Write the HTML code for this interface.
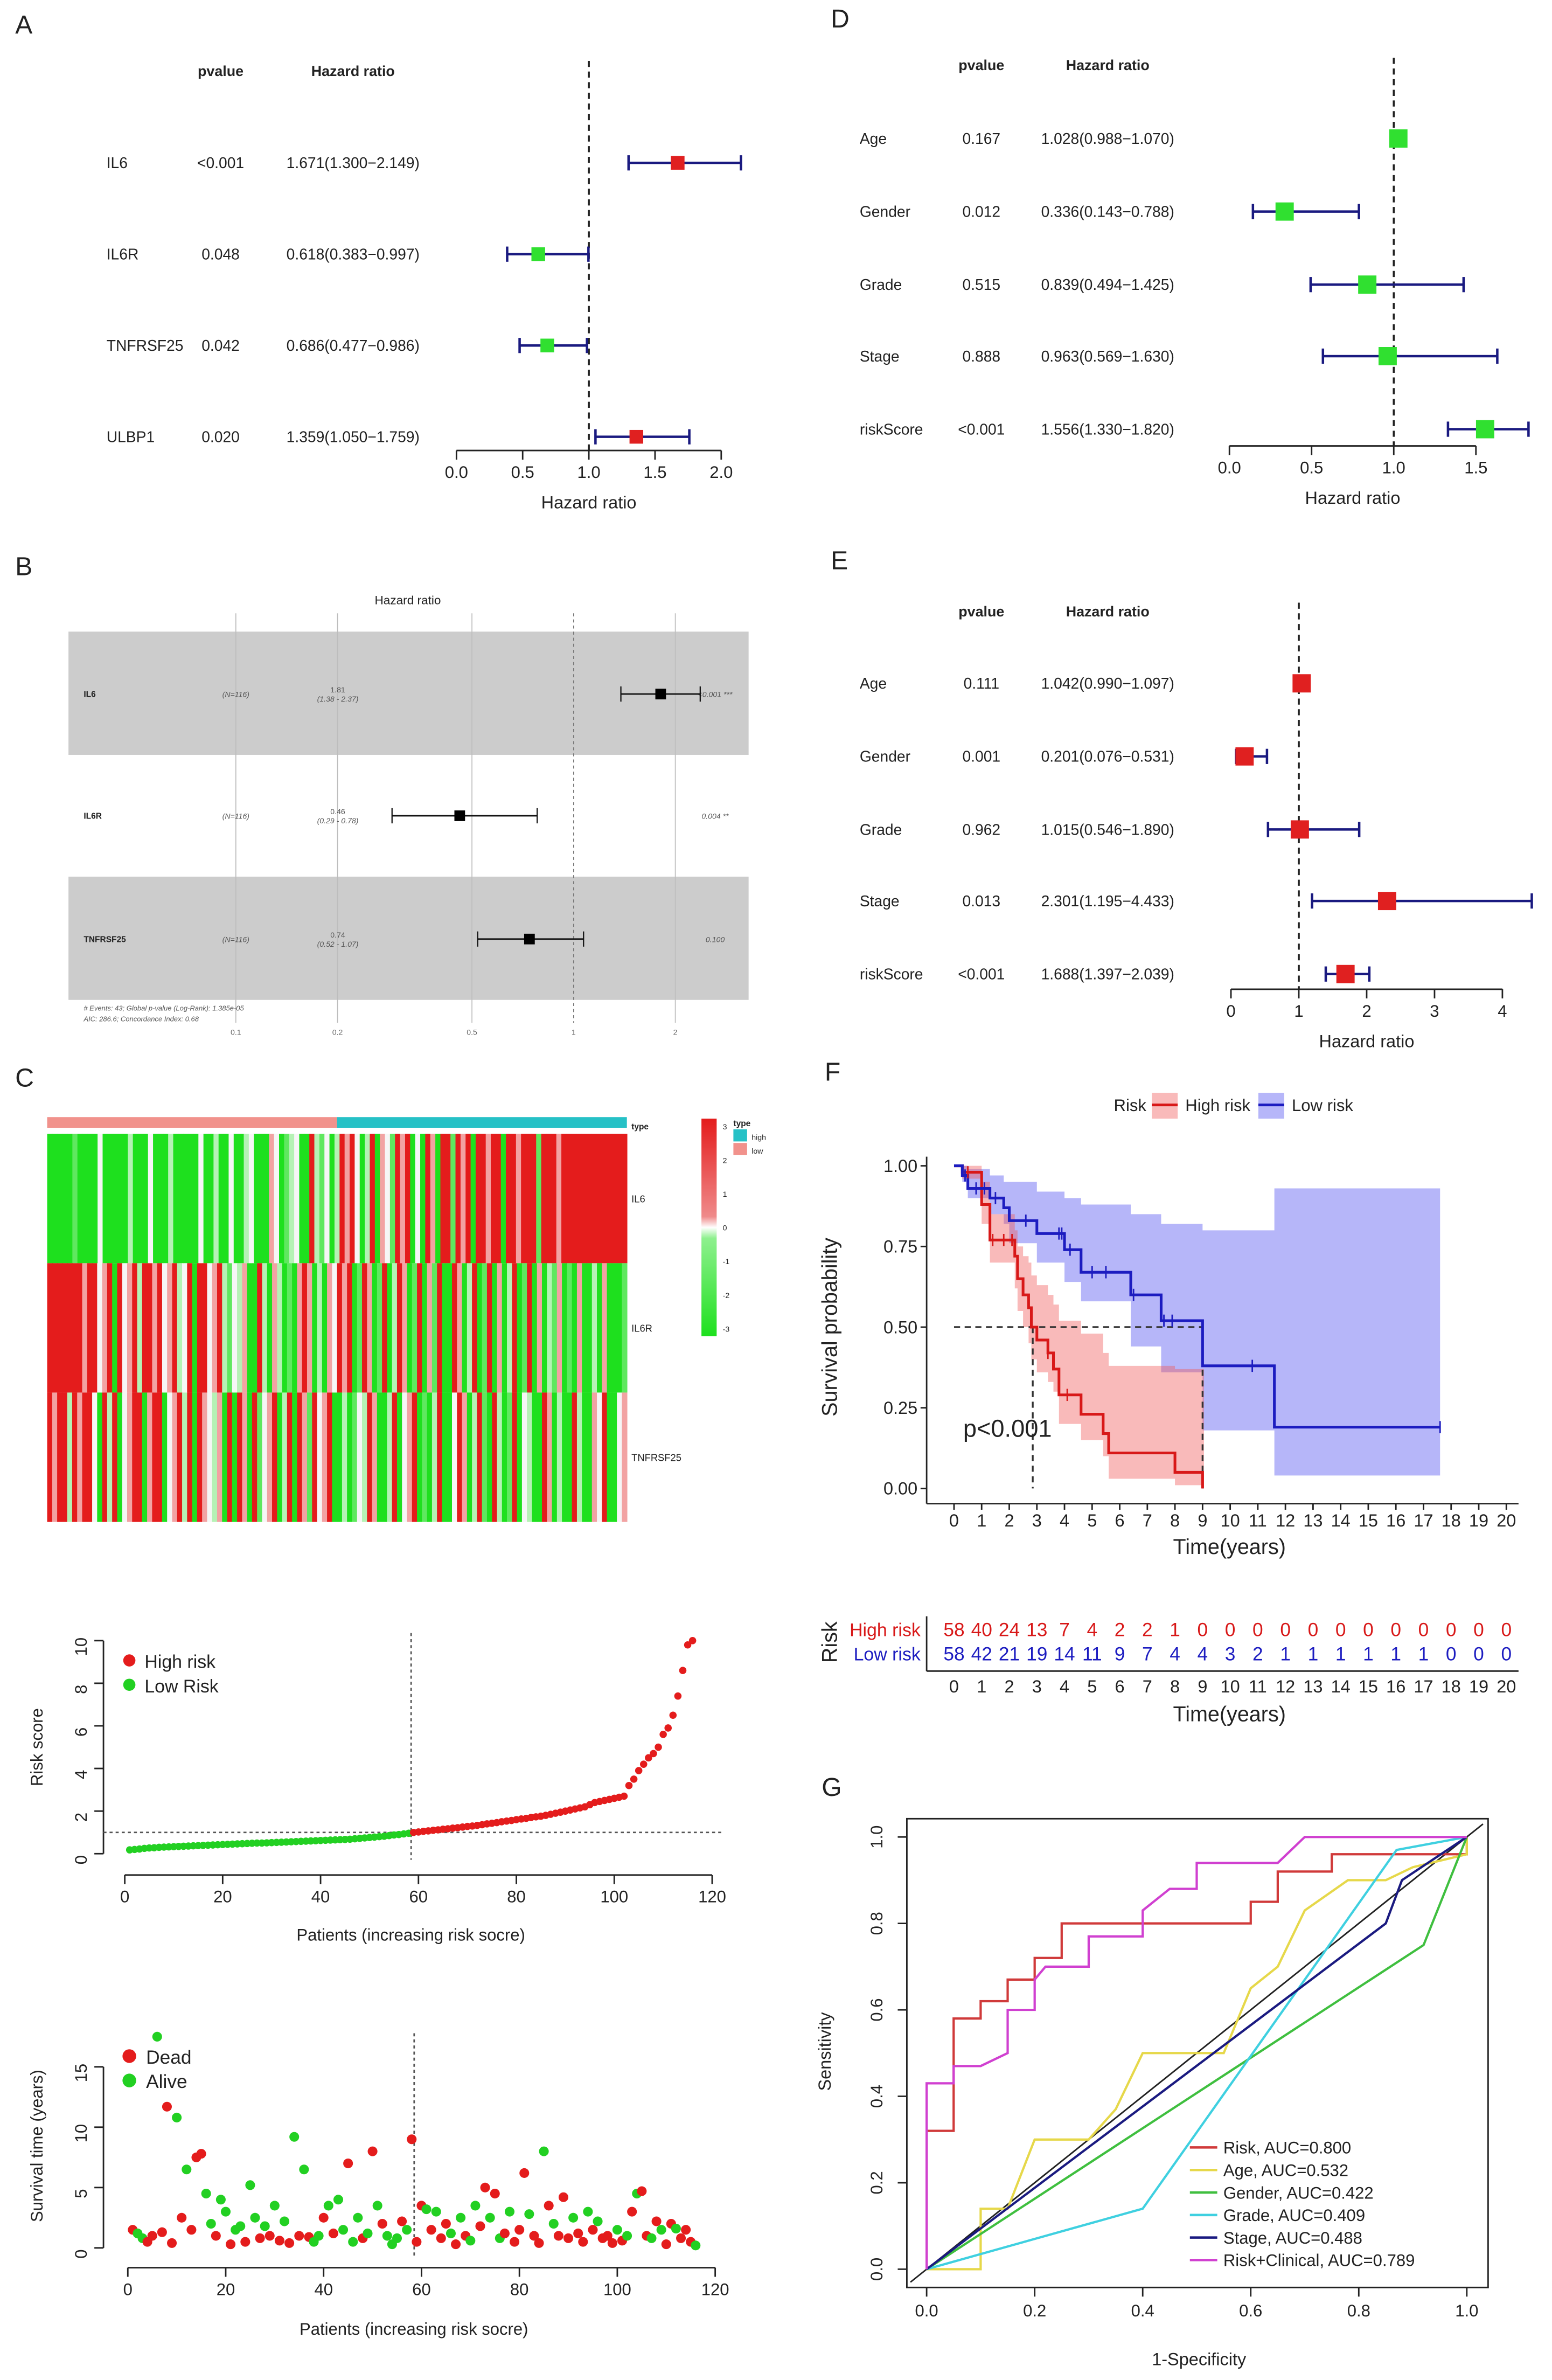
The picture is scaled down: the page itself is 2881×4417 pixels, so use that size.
<!DOCTYPE html>
<html><head><meta charset="utf-8"><style>
html,body{margin:0;padding:0;background:#fff}
svg{display:block;font-family:"Liberation Sans",Arial,sans-serif}
</style></head><body>
<svg id="fig" xmlns="http://www.w3.org/2000/svg" width="2881" height="4417" viewBox="0 0 1020 1563.8">
<rect x="0" y="0" width="1020" height="1563.8" fill="#fff"/>
</svg>
<script>
// ---------- DATA ----------
const aGenes=["IL6","IL6R","TNFRSF25","ULBP1"];
const aPvals=["<0.001","0.048","0.042","0.020"];
const aHRtxt=["1.671(1.300\u22122.149)","0.618(0.383\u22120.997)","0.686(0.477\u22120.986)","1.359(1.050\u22121.759)"];
const aHR=[1.671,0.618,0.686,1.359];
const aLo=[1.300,0.383,0.477,1.050];
const aHi=[2.149,0.997,0.986,1.759];
const aTicks=[0,0.5,1,1.5,2];

const dVars=["Age","Gender","Grade","Stage","riskScore"];
const dPvals=["0.167","0.012","0.515","0.888","<0.001"];
const dHRtxt=["1.028(0.988\u22121.070)","0.336(0.143\u22120.788)","0.839(0.494\u22121.425)","0.963(0.569\u22121.630)","1.556(1.330\u22121.820)"];
const dHR=[1.028,0.336,0.839,0.963,1.556];
const dLo=[0.988,0.143,0.494,0.569,1.330];
const dHi=[1.070,0.788,1.425,1.630,1.820];
const dTicks=[0,0.5,1,1.5];

const eVars=["Age","Gender","Grade","Stage","riskScore"];
const ePvals=["0.111","0.001","0.962","0.013","<0.001"];
const eHRtxt=["1.042(0.990\u22121.097)","0.201(0.076\u22120.531)","1.015(0.546\u22121.890)","2.301(1.195\u22124.433)","1.688(1.397\u22122.039)"];
const eHR=[1.042,0.201,1.015,2.301,1.688];
const eLo=[0.990,0.076,0.546,1.195,1.397];
const eHi=[1.097,0.531,1.890,4.433,2.039];
const eTicks=[0,1,2,3,4];

const bGenes=["IL6","IL6R","TNFRSF25"];
const bHR=[1.81,0.46,0.74];
const bLo=[1.38,0.29,0.52];
const bHi=[2.37,0.78,1.07];
const bHRtxt=["1.81","0.46","0.74"];
const bCItxt=["(1.38 - 2.37)","(0.29 - 0.78)","(0.52 - 1.07)"];
const bPtxt=["<0.001 ***","0.004 **","0.100"];
const bTicks=[0.1,0.2,0.5,1,2];

// heatmap codes: G=-3 g=-1.5 l=-0.7 w=0 p=1 r=2 R=3
const hmGenes=["IL6","IL6R","TNFRSF25"];
const hmRows=[
"GGGGGgGGGGwGGGGGlGGGwGGGlGGGGGwGGlGGwGGlwGGGpwGglwGGRlgwGl"+"RpRwGlRGpwgRpRGwGRpGRRgRpRGRRpRRGRRpRRRgRRRpRRRRRRRRRRRRR",
"RRRRRRRpRRwpRGRwpRlRRpRwpRlwRGRRwpRlgwlpGGRlGplGgGpRpGlGpw"+"RpRGgRpGgRGlRpGgRGpgRGGRpGlRGgRGpGlRGgRGpGlgpGgGpGGlGpGGGg",
"RpRRlRpRRwGRlRGwpRRGpRRGwpRlRGRpwlpGRGRpGRgwpRGlRGRpgRwpRG"+"GlGgwlRpGGlRGwpRGgGlRGGwRpGlRgGRlGgRGwlGGRpGlGGRlGGpwRGGwp"
];
const hmTicks=[3,2,1,0,-1,-2,-3];

const riskScore=[0.18,0.2,0.22,0.25,0.27,0.28,0.3,0.31,0.32,0.33,0.34,0.35,0.36,0.37,0.38,0.39,0.4,0.41,0.42,0.43,0.44,0.45,0.46,0.47,0.48,0.49,0.5,0.5,0.51,0.52,0.53,0.54,0.55,0.56,0.57,0.58,0.59,0.6,0.61,0.62,0.63,0.64,0.65,0.66,0.67,0.68,0.7,0.72,0.74,0.76,0.78,0.8,0.82,0.85,0.88,0.9,0.93,0.96,
1.0,1.02,1.05,1.07,1.1,1.12,1.15,1.17,1.2,1.22,1.25,1.28,1.3,1.33,1.36,1.4,1.43,1.46,1.5,1.53,1.56,1.6,1.63,1.66,1.7,1.73,1.76,1.8,1.85,1.9,1.95,2.0,2.05,2.1,2.15,2.2,2.3,2.4,2.45,2.5,2.55,2.6,2.65,2.7,3.2,3.5,3.9,4.2,4.5,4.7,5.0,5.6,5.9,6.5,7.4,8.6,9.8,10.0];
const riskXTicks=[0,20,40,60,80,100,120];
const riskYTicks=[0,2,4,6,8,10];

const survTime=[1.5,1.2,0.8,0.5,1.0,17.5,1.3,11.7,0.4,10.8,2.5,6.5,1.5,7.5,7.8,4.5,2.0,1.0,4.0,3.0,0.3,1.5,1.8,0.5,5.2,2.5,0.8,1.8,1.0,3.5,0.6,2.2,0.4,9.2,1.0,6.5,0.9,0.5,1.0,2.5,3.5,1.2,4.0,1.5,7.0,0.5,2.5,0.8,1.2,8.0,3.5,2.0,1.0,0.3,0.8,2.2,1.5,9.0,
0.5,3.5,3.2,1.5,3.0,0.8,2.0,1.2,0.3,2.5,1.0,0.6,3.5,1.8,5.0,2.5,4.5,0.8,1.2,3.0,0.5,1.5,6.2,2.8,1.0,0.4,8.0,3.5,2.0,1.0,4.2,0.8,2.5,1.2,0.5,3.0,1.5,2.2,0.8,1.0,0.4,1.5,0.6,1.0,3.0,4.5,4.7,1.0,0.8,2.2,1.5,0.3,2.0,1.6,0.8,1.5,0.5,0.2];
const survDead="1001101110101110010010010010101010101001010010010101000101"+"1101011010100110101011101101011101101011101010110101101110";
const survYTicks=[0,5,10,15];

const kmHighT=[0,0.3,1.0,1.3,2.2,2.3,2.5,2.7,2.8,3.0,3.4,3.6,3.8,4.6,5.4,5.6,8.0,9.0];
const kmHighS=[1,0.98,0.88,0.77,0.72,0.65,0.60,0.56,0.50,0.46,0.42,0.37,0.29,0.23,0.17,0.11,0.05,0.0];
const kmHighU=[1,1,0.95,0.85,0.80,0.75,0.72,0.70,0.66,0.63,0.60,0.57,0.52,0.48,0.42,0.38,0.37,0.37];
const kmHighL=[1,0.96,0.82,0.70,0.62,0.55,0.50,0.45,0.40,0.36,0.33,0.30,0.20,0.15,0.10,0.03,0.01,0.0];
const kmLowT=[0,0.3,0.5,1.3,1.8,2.0,3.0,4.0,4.6,6.4,7.5,9.0,11.6,17.6];
const kmLowS=[1,0.97,0.93,0.90,0.87,0.83,0.79,0.74,0.67,0.60,0.52,0.38,0.19,0.19];
const kmLowU=[1,1,0.99,0.97,0.95,0.95,0.92,0.90,0.88,0.85,0.82,0.80,0.93,0.93];
const kmLowL=[1,0.95,0.90,0.85,0.82,0.76,0.70,0.64,0.58,0.44,0.36,0.18,0.04,0.04];
const kmLowCens=[0.4,0.8,1.1,1.5,2.6,3.8,3.9,4.2,5.0,5.5,6.5,7.6,7.9,10.8,17.6];
const kmHighCens=[0.5,1.4,1.8,2.1,3.4,4.1];
const kmXTicks=[0,1,2,3,4,5,6,7,8,9,10,11,12,13,14,15,16,17,18,19,20];
const kmYTicks=[0,0.25,0.5,0.75,1.0];
const nHigh=[58,40,24,13,7,4,2,2,1,0,0,0,0,0,0,0,0,0,0,0,0];
const nLow=[58,42,21,19,14,11,9,7,4,4,3,2,1,1,1,1,1,1,0,0,0];

const rocNames=["Risk, AUC=0.800","Age, AUC=0.532","Gender, AUC=0.422","Grade, AUC=0.409","Stage, AUC=0.488","Risk+Clinical, AUC=0.789"];
const rocColors=["#d03a3a","#e6d84a","#3fbf3f","#3fd0e0","#1a1a80","#d040d0"];
const rocRiskX=[0,0,0.05,0.05,0.1,0.1,0.15,0.15,0.2,0.2,0.25,0.25,0.6,0.6,0.65,0.65,0.75,0.75,1,1];
const rocRiskY=[0,0.32,0.32,0.58,0.58,0.62,0.62,0.67,0.67,0.72,0.72,0.8,0.8,0.85,0.85,0.92,0.92,0.96,0.96,1];
const rocAgeX=[0,0.1,0.1,0.15,0.2,0.3,0.35,0.4,0.55,0.6,0.65,0.7,0.78,0.85,0.9,1,1];
const rocAgeY=[0,0,0.14,0.14,0.3,0.3,0.37,0.5,0.5,0.65,0.7,0.83,0.9,0.9,0.93,0.96,1];
const rocGenderX=[0,0.92,1];
const rocGenderY=[0,0.75,1];
const rocGradeX=[0,0.4,0.87,1];
const rocGradeY=[0,0.14,0.97,1];
const rocStageX=[0,0.85,0.88,1];
const rocStageY=[0,0.8,0.9,1];
const rocRCX=[0,0,0.05,0.05,0.1,0.15,0.15,0.2,0.2,0.22,0.3,0.3,0.4,0.4,0.45,0.5,0.5,0.65,0.7,1];
const rocRCY=[0,0.43,0.43,0.47,0.47,0.5,0.6,0.6,0.67,0.7,0.7,0.77,0.77,0.83,0.88,0.88,0.94,0.94,1,1];
const rocTicks=[0,0.2,0.4,0.6,0.8,1.0];

// ---------- HELPERS ----------
const svg=document.getElementById('fig');
const NS="http://www.w3.org/2000/svg";
function mk(tag,attrs,name,parent){
  const el=document.createElementNS(NS,tag);
  for(const k in attrs) el.setAttribute(k,attrs[k]);
  
  
  (parent||svg).appendChild(el);
  return el;
}
function txt(x,y,s,size,name,opt){
  opt=opt||{};
  const t=mk('text',Object.assign({x:x,y:y,'font-size':size,fill:opt.fill||'#222','text-anchor':opt.anchor||'start'},opt.extra||{}),name);
  if(opt.bold) t.setAttribute('font-weight','bold');
  if(opt.italic) t.setAttribute('font-style','italic');
  if(opt.rot!==undefined) t.setAttribute('transform','rotate('+opt.rot+' '+x+' '+y+')');
  t.textContent=s;
  return t;
}
function line(x1,y1,x2,y2,stroke,w,name,dash){
  const a={x1:x1,y1:y1,x2:x2,y2:y2,stroke:stroke,'stroke-width':w};
  if(dash) a['stroke-dasharray']=dash;
  return mk('line',a,name);
}

// ---------- PANEL LABELS ----------
[["A",10,22],["B",10,378],["C",10,714],["D",546,18],["E",546,374],["F",542,710],["G",540,1180]].forEach(p=>{
  txt(p[1],p[2],p[0],17,'panel-label-'+p[0].toLowerCase());
});

// ---------- FOREST (A,D,E) ----------
function forest(cfg){
  const sx=v=>cfg.x0+(v-cfg.v0)*cfg.k;
  txt(cfg.pvx,cfg.hy,'pvalue',9.5,cfg.id+'-pvalue-header',{anchor:'middle',bold:true});
  txt(cfg.hrx,cfg.hy,'Hazard ratio',9.5,cfg.id+'-hr-header',{anchor:'middle',bold:true});
  line(sx(1),cfg.top,sx(1),cfg.axy,'#222',1.3,cfg.id+'-reference-line','4,3');
  cfg.names.forEach((n,i)=>{
    const y=cfg.rows[i];
    txt(cfg.nx,y+3.5,n,10,cfg.id+'-row-label');
    txt(cfg.pvx,y+3.5,cfg.p[i],10,cfg.id+'-pvalue',{anchor:'middle'});
    txt(cfg.hrx,y+3.5,cfg.t[i],10,cfg.id+'-hr-text',{anchor:'middle'});
    line(sx(cfg.lo[i]),y,sx(cfg.hi[i]),y,'#1a1a80',1.6,cfg.id+'-ci-line');
    line(sx(cfg.lo[i]),y-5,sx(cfg.lo[i]),y+5,'#1a1a80',1.6,cfg.id+'-ci-cap');
    line(sx(cfg.hi[i]),y-5,sx(cfg.hi[i]),y+5,'#1a1a80',1.6,cfg.id+'-ci-cap');
    const col=cfg.colors[i];
    const s=cfg.sq;
    mk('rect',{x:sx(cfg.hr[i])-s/2,y:y-s/2,width:s,height:s,fill:col},cfg.id+'-hr-point');
  });
  line(sx(cfg.ticks[0]),cfg.axy,sx(cfg.ticks[cfg.ticks.length-1]),cfg.axy,'#222',1,cfg.id+'-x-axis');
  cfg.ticks.forEach(t=>{
    line(sx(t),cfg.axy,sx(t),cfg.axy+6,'#222',1,cfg.id+'-x-tick');
    txt(sx(t),cfg.axy+18,cfg.tf(t),11,cfg.id+'-x-tick-label',{anchor:'middle'});
  });
  txt((sx(cfg.ticks[0])+sx(cfg.ticks[cfg.ticks.length-1]))/2,cfg.axy+38,'Hazard ratio',11.5,cfg.id+'-x-axis-title',{anchor:'middle'});
}
forest({id:'forest-a',names:aGenes,p:aPvals,t:aHRtxt,hr:aHR,lo:aLo,hi:aHi,ticks:aTicks,tf:t=>t.toFixed(1),
  x0:300,v0:0,k:87,rows:[107,167,227,287],nx:70,pvx:145,hrx:232,hy:50,top:40,axy:296,sq:9,
  colors:aHR.map(v=>v>1?'#e02020':'#30e030')});
forest({id:'forest-d',names:dVars,p:dPvals,t:dHRtxt,hr:dHR,lo:dLo,hi:dHi,ticks:dTicks,tf:t=>t.toFixed(1),
  x0:808,v0:0,k:108,rows:[91,139,187,234,282],nx:565,pvx:645,hrx:728,hy:46,top:38,axy:293,sq:12,
  colors:dHR.map(()=>'#30e030')});
forest({id:'forest-e',names:eVars,p:ePvals,t:eHRtxt,hr:eHR,lo:eLo,hi:eHi,ticks:eTicks,tf:t=>String(t),
  x0:809,v0:0,k:44.6,rows:[449,497,545,592,640],nx:565,pvx:645,hrx:728,hy:405,top:396,axy:650,sq:12,
  colors:eHR.map(()=>'#e02020')});

// ---------- PANEL B ----------
(function(){
  const sx=v=>377+222*Math.log10(v);
  txt(268,397,'Hazard ratio',8,'b-title',{anchor:'middle'});
  const rowsY=[456,536,617];
  mk('rect',{x:45,y:415,width:447,height:81,fill:'#cccccc'},'b-row-band');
  mk('rect',{x:45,y:576,width:447,height:81,fill:'#cccccc'},'b-row-band');
  bTicks.forEach(t=>{
    line(sx(t),403,sx(t),672,t===1?'#777':'#bdbdbd',0.6,'b-gridline',t===1?'2,2':null);
    txt(sx(t),680,String(t),5,'b-x-tick-label',{anchor:'middle',fill:'#666'});
  });
  bGenes.forEach((g,i)=>{
    const y=rowsY[i];
    txt(55,y+2,g,5.5,'b-gene-label',{bold:true});
    txt(155,y+2,'(N=116)',5,'b-n-label',{anchor:'middle',italic:true,fill:'#555'});
    txt(222,y-1,bHRtxt[i],5,'b-hr-text',{anchor:'middle',fill:'#555'});
    txt(222,y+5,bCItxt[i],5,'b-ci-text',{anchor:'middle',italic:true,fill:'#555'});
    txt(470,y+2,bPtxt[i],5,'b-pvalue-text',{anchor:'middle',italic:true,fill:'#555'});
    line(sx(bLo[i]),y,sx(bHi[i]),y,'#111',1,'b-ci-line');
    line(sx(bLo[i]),y-5,sx(bLo[i]),y+5,'#111',0.8,'b-ci-cap');
    line(sx(bHi[i]),y-5,sx(bHi[i]),y+5,'#111',0.8,'b-ci-cap');
    mk('rect',{x:sx(bHR[i])-3.5,y:y-3.5,width:7,height:7,fill:'#000'},'b-hr-point');
  });
  txt(55,664,'# Events: 43; Global p-value (Log-Rank): 1.385e-05',4.6,'b-footnote',{italic:true,fill:'#555'});
  txt(55,671,'AIC: 286.6; Concordance Index: 0.68',4.6,'b-footnote',{italic:true,fill:'#555'});
})();

// ---------- PANEL C HEATMAP ----------
(function(){
  const colMap={G:'#1ee01e',g:'#5fe85f',l:'#b5f2b5',w:'#f6f6f6',p:'#f2a3a3',r:'#ec5a5a',R:'#e41c1c'};
  const x0=31,x1=412;
  const nLow=58,total=116;
  const cw=(x1-x0)/total;
  mk('rect',{x:x0,y:734,width:cw*nLow,height:7,fill:'#f1928c'},'type-bar-low');
  mk('rect',{x:x0+cw*nLow,y:734,width:cw*(total-nLow),height:7,fill:'#26c1c6'},'type-bar-high');
  txt(415,742,'type',5.5,'type-bar-label',{bold:true});
  const rowY=[745,830,915];
  hmRows.forEach((s,r)=>{
    const w=(x1-x0)/s.length;
    for(let i=0;i<s.length;i++){
      mk('rect',{x:x0+i*w,y:rowY[r],width:w+0.3,height:85,fill:colMap[s[i]]||'#f6f6f6'},'heatmap-cell');
    }
    txt(415,rowY[r]+45,hmGenes[r],6.5,'heatmap-row-label');
  });
  const g=mk('linearGradient',{id:'hmgrad',x1:0,y1:0,x2:0,y2:1},'colorbar-gradient');
  [['0','#e41c1c'],['0.45','#ef8a8a'],['0.5','#ffffff'],['0.55','#8ef08e'],['1','#1ee01e']].forEach(s=>{
    mk('stop',{offset:s[0],'stop-color':s[1]},'gradient-stop',g);
  });
  mk('rect',{x:461,y:735,width:10,height:143,fill:'url(#hmgrad)'},'colorbar');
  hmTicks.forEach(t=>{
    const y=735+5+(3-t)/6*133;
    txt(475,y+2,String(t),5,'colorbar-tick-label');
  });
  txt(482,740,'type',5.5,'legend-type-title',{bold:true});
  mk('rect',{x:482,y:742,width:9,height:8,fill:'#26c1c6'},'legend-high-swatch');
  mk('rect',{x:482,y:751,width:9,height:8,fill:'#f1928c'},'legend-low-swatch');
  txt(494,749,'high',5,'legend-high-label');
  txt(494,758,'low',5,'legend-low-label');
})();

// ---------- RISK SCORE PLOT ----------
(function(){
  const sx=i=>82+i*3.217, sy=v=>1218-v*14;
  line(68,sy(0),68,sy(10),'#222',1,'risk-y-axis');
  line(sx(0),1232,sx(120),1232,'#222',1,'risk-x-axis');
  riskYTicks.forEach(t=>{line(62,sy(t),68,sy(t),'#222',1,'risk-y-tick');txt(57,sy(t)+4,String(t),11,'risk-y-tick-label',{anchor:'middle',rot:-90});});
  riskXTicks.forEach(t=>{line(sx(t),1232,sx(t),1238,'#222',1,'risk-x-tick');txt(sx(t),1250,String(t),11,'risk-x-tick-label',{anchor:'middle'});});
  txt(28,1148,'Risk score',11,'risk-y-axis-title',{anchor:'middle',rot:-90});
  txt(270,1275,'Patients (increasing risk socre)',11,'risk-x-axis-title',{anchor:'middle'});
  line(sx(58.5),1073,sx(58.5),1222,'#555',1,'risk-cutoff-vline','2,2');
  line(68,sy(1),476,sy(1),'#555',1,'risk-cutoff-hline','2,2');
  riskScore.forEach((v,i)=>{
    mk('circle',{cx:sx(i+1),cy:sy(v),r:2.4,fill:v>=1?'#e41c1c':'#22d022'},'risk-point');
  });
  mk('circle',{cx:85,cy:1091,r:4,fill:'#e41c1c'},'legend-high-risk-dot');
  txt(95,1096,'High risk',12,'legend-high-risk-label');
  mk('circle',{cx:85,cy:1107,r:4,fill:'#22d022'},'legend-low-risk-dot');
  txt(95,1112,'Low Risk',12,'legend-low-risk-label');
})();

// ---------- SURVIVAL TIME PLOT ----------
(function(){
  const sx=i=>84+i*3.217, sy=v=>1477-v*7.93;
  line(68,sy(0),68,sy(15),'#222',1,'surv-y-axis');
  line(sx(0),1490,sx(120),1490,'#222',1,'surv-x-axis');
  survYTicks.forEach(t=>{line(62,sy(t),68,sy(t),'#222',1,'surv-y-tick');txt(57,sy(t)+4,String(t),11,'surv-y-tick-label',{anchor:'middle',rot:-90});});
  riskXTicks.forEach(t=>{line(sx(t),1490,sx(t),1496,'#222',1,'surv-x-tick');txt(sx(t),1508,String(t),11,'surv-x-tick-label',{anchor:'middle'});});
  txt(28,1410,'Survival time (years)',11,'surv-y-axis-title',{anchor:'middle',rot:-90});
  txt(272,1534,'Patients (increasing risk socre)',11,'surv-x-axis-title',{anchor:'middle'});
  line(sx(58.5),1336,sx(58.5),1482,'#555',1,'surv-cutoff-vline','2,2');
  survTime.forEach((v,i)=>{
    mk('circle',{cx:sx(i+1),cy:sy(v),r:3.2,fill:survDead[i]==='1'?'#e41c1c':'#22d022'},'surv-point');
  });
  mk('circle',{cx:85,cy:1351,r:4.5,fill:'#e41c1c'},'legend-dead-dot');
  txt(96,1356,'Dead',12.5,'legend-dead-label');
  mk('circle',{cx:85,cy:1367,r:4.5,fill:'#22d022'},'legend-alive-dot');
  txt(96,1372,'Alive',12.5,'legend-alive-label');
})();

// ---------- PANEL F KM ----------
(function(){
  const sx=t=>627+t*18.15, sy=s=>978-s*212;
  function stepPts(T,S){let p=[];for(let i=0;i<T.length;i++){if(i>0)p.push([sx(T[i]),sy(S[i-1])]);p.push([sx(T[i]),sy(S[i])]);}return p;}
  function ribbon(T,U,L,end){
    const TT=T.concat([end]);
    let up=[],lo=[];
    for(let i=0;i<T.length;i++){up.push([sx(TT[i]),sy(U[i])]);up.push([sx(TT[i+1]),sy(U[i])]);lo.push([sx(TT[i]),sy(L[i])]);lo.push([sx(TT[i+1]),sy(L[i])]);}
    return up.concat(lo.reverse()).map(p=>p.join(',')).join(' ');
  }
  mk('polygon',{points:ribbon(kmLowT,kmLowU,kmLowL,17.6),fill:'rgba(80,80,240,0.42)'},'km-low-risk-ci');
  mk('polygon',{points:ribbon(kmHighT,kmHighU,kmHighL,9.05),fill:'rgba(240,90,90,0.42)'},'km-high-risk-ci');
  // median lines
  line(sx(0),sy(0.5),sx(9.0),sy(0.5),'#333',1.2,'km-median-hline','4,3');
  line(sx(2.85),sy(0.5),sx(2.85),sy(0),'#333',1.2,'km-median-vline-high','4,3');
  line(sx(9.0),sy(0.5),sx(9.0),sy(0),'#333',1.2,'km-median-vline-low','4,3');
  const hp=stepPts(kmHighT,kmHighS);
  mk('polyline',{points:hp.map(p=>p.join(',')).join(' '),fill:'none',stroke:'#d81818','stroke-width':1.8},'km-high-risk-curve');
  const lp=stepPts(kmLowT,kmLowS);
  mk('polyline',{points:lp.map(p=>p.join(',')).join(' '),fill:'none',stroke:'#1c1cc0','stroke-width':1.8},'km-low-risk-curve');
  function survAt(T,S,t){let s=S[0];for(let i=0;i<T.length;i++){if(T[i]<=t)s=S[i];}return s;}
  kmLowCens.forEach(t=>{const y=sy(survAt(kmLowT,kmLowS,t));line(sx(t),y-4,sx(t),y+4,'#1c1cc0',1,'km-low-censor');});
  kmHighCens.forEach(t=>{const y=sy(survAt(kmHighT,kmHighS,t));line(sx(t),y-4,sx(t),y+4,'#d81818',1,'km-high-censor');});
  line(609,760,609,sy(0)+10,'#222',1,'km-y-axis');
  line(609,sy(0)+10,sx(20)+8,sy(0)+10,'#222',1,'km-x-axis');
  kmYTicks.forEach(t=>{line(605,sy(t),609,sy(t),'#222',1,'km-y-tick');txt(603,sy(t)+4,t.toFixed(2),11.5,'km-y-tick-label',{anchor:'end'});});
  kmXTicks.forEach(t=>{line(sx(t),sy(0)+10,sx(t),sy(0)+14,'#222',1,'km-x-tick');txt(sx(t),1003,String(t),11.5,'km-x-tick-label',{anchor:'middle'});});
  txt(550,872,'Survival probability',14,'km-y-axis-title',{anchor:'middle',rot:-90});
  txt(808,1021,'Time(years)',14,'km-x-axis-title',{anchor:'middle'});
  txt(633,944,'p<0.001',16,'km-pvalue');
  // legend
  txt(732,730,'Risk',11,'km-legend-title');
  mk('rect',{x:757,y:718,width:17,height:17,fill:'rgba(240,90,90,0.42)'},'km-legend-high-key');
  line(757,726,774,726,'#d81818',1.8,'km-legend-high-line');
  txt(779,730,'High risk',11,'km-legend-high-label');
  mk('rect',{x:827,y:718,width:17,height:17,fill:'rgba(80,80,240,0.42)'},'km-legend-low-key');
  line(827,726,844,726,'#1c1cc0',1.8,'km-legend-low-line');
  txt(849,730,'Low risk',11,'km-legend-low-label');
  // risk table
  txt(550,1079,'Risk',14,'risk-table-y-title',{anchor:'middle',rot:-90});
  txt(605,1075,'High risk',12,'risk-table-high-label',{anchor:'end',fill:'#d81818'});
  txt(605,1091,'Low risk',12,'risk-table-low-label',{anchor:'end',fill:'#1c1cc0'});
  line(609,1062,609,1098,'#222',1,'risk-table-y-axis');
  line(609,1098,sx(20)+8,1098,'#222',1,'risk-table-x-axis');
  nHigh.forEach((n,i)=>txt(sx(kmXTicks[i]),1075,String(n),12.5,'risk-table-high-count',{anchor:'middle',fill:'#d81818'}));
  nLow.forEach((n,i)=>txt(sx(kmXTicks[i]),1091,String(n),12.5,'risk-table-low-count',{anchor:'middle',fill:'#1c1cc0'}));
  kmXTicks.forEach(t=>txt(sx(t),1112,String(t),11.5,'risk-table-x-tick-label',{anchor:'middle'}));
  txt(808,1131,'Time(years)',14,'risk-table-x-axis-title',{anchor:'middle'});
})();

// ---------- PANEL G ROC ----------
(function(){
  const sx=v=>609+v*355, sy=v=>1491-v*284;
  mk('rect',{x:596,y:1195,width:382,height:308,fill:'none',stroke:'#222','stroke-width':1},'roc-frame');
  rocTicks.forEach(t=>{
    line(sx(t),1503,sx(t),1509,'#222',1,'roc-x-tick');
    txt(sx(t),1522,t.toFixed(1),11,'roc-x-tick-label',{anchor:'middle'});
    line(590,sy(t),596,sy(t),'#222',1,'roc-y-tick');
    txt(580,sy(t),t.toFixed(1),11,'roc-y-tick-label',{anchor:'middle',rot:-90});
  });
  txt(788,1554,'1-Specificity',11.5,'roc-x-axis-title',{anchor:'middle'});
  txt(546,1348,'Sensitivity',11.5,'roc-y-axis-title',{anchor:'middle',rot:-90});
  line(sx(0),sy(0),sx(1),sy(1),'#888',1,'roc-diagonal-dashed','5,3');
  line(sx(-0.03),sy(-0.03),sx(1.03),sy(1.03),'#222',1,'roc-diagonal');
  const curves=[[rocRiskX,rocRiskY],[rocAgeX,rocAgeY],[rocGenderX,rocGenderY],[rocGradeX,rocGradeY],[rocStageX,rocStageY],[rocRCX,rocRCY]];
  curves.forEach((c,k)=>{
    const pts=c[0].map((x,i)=>sx(x)+','+sy(c[1][i])).join(' ');
    mk('polyline',{points:pts,fill:'none',stroke:rocColors[k],'stroke-width':1.5},'roc-curve-'+k);
  });
  rocNames.forEach((n,k)=>{
    const y=1411+k*14.8;
    line(782,y,800,y,rocColors[k],1.6,'roc-legend-line');
    txt(804,y+4,n,11,'roc-legend-label');
  });
})();
</script>
</body></html>
